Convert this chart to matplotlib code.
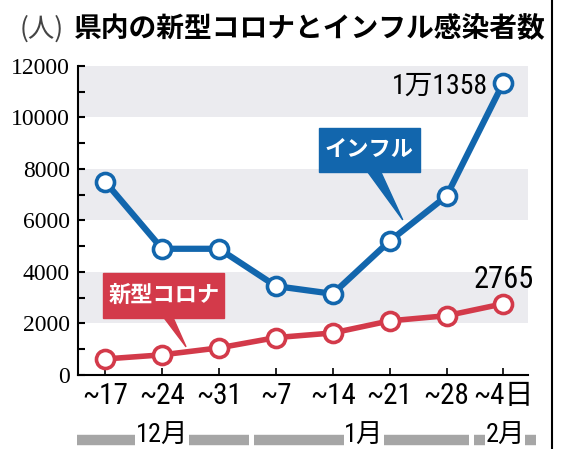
import matplotlib.pyplot as plt
from matplotlib.lines import Line2D
from matplotlib.patches import Rectangle, Polygon

plt.rcParams['font.family'] = ['Noto Sans CJK JP', 'DejaVu Sans']

weeks = ["~17", "~24", "~31", "~7", "~14", "~21", "~28", "~4日"]
flu = [7500, 4900, 4900, 3450, 3150, 5200, 6950, 11358]
covid = [620, 780, 1050, 1450, 1630, 2100, 2300, 2765]
months = ["12月", "1月", "2月"]
month_pos = [1.0, 4.55, 7.03]
month_spans = [(-0.5, 2.53), (2.62, 6.40), (6.49, 7.57)]

BLUE = "#1266ad"
RED = "#d33a4a"
NARROW = ['Roboto Condensed', 'Noto Sans CJK JP']
SERIF = 'Liberation Serif'

fig = plt.figure(figsize=(5.61, 4.49), dpi=100)
ax = fig.add_axes([0.139, 0.165, 0.802, 0.688])

for lo, hi in [(2000, 4000), (6000, 8000), (10000, 12000)]:
    ax.axhspan(lo, hi, color="#ebebef", zorder=0, lw=0)

x = list(range(len(weeks)))
ax.plot(x, flu, color=BLUE, lw=4.5, marker="o", ms=13, mfc="white",
        mec=BLUE, mew=2.6, zorder=4)
ax.plot(x, covid, color=RED, lw=4, marker="o", ms=13, mfc="white",
        mec=RED, mew=2.6, zorder=3)

ax.set_xlim(-0.48, 7.43)
ax.set_ylim(0, 12000)
ax.set_yticks(range(0, 12001, 2000))
ax.set_yticks(range(0, 12001, 1000), minor=True)
ax.tick_params(axis="y", which="both", direction="in", length=5, width=1.5, pad=6)
ax.tick_params(axis="x", direction="in", length=5, width=1.2, pad=5)
ax.set_yticklabels([str(v) for v in range(0, 12001, 2000)],
                   fontfamily=SERIF, fontsize=17)
ax.set_xticks(x)
ax.set_xticklabels(weeks, fontfamily=NARROW, fontsize=21)
for s in ["top", "right"]:
    ax.spines[s].set_visible(False)
for s in ["left", "bottom"]:
    ax.spines[s].set_linewidth(1.5)

# end labels
ax.text(6.72, flu[-1] - 150, "1万1358", family=NARROW, fontsize=20,
        ha="right", va="center")
ax.text(7.0, covid[-1] + 950, "2765", family=NARROW, fontsize=22,
        ha="center", va="center")

# callout boxes
ax.add_patch(Rectangle((3.76, 7883), 1.77, 1709, color=BLUE, zorder=5))
ax.add_patch(Polygon([(4.61, 7900), (4.84, 7900), (5.23, 6020)], color=BLUE, zorder=5))
ax.text(4.645, 8740, "インフル", color="white", fontsize=16, weight="bold",
        ha="center", va="center", zorder=6)

ax.add_patch(Rectangle((-0.035, 2214), 2.125, 1747, color=RED, zorder=5))
ax.add_patch(Polygon([(1.03, 2230), (1.19, 2230), (1.42, 1090)], color=RED, zorder=5))
ax.text(1.03, 3090, "新型コロナ", color="white", fontsize=16, weight="bold",
        ha="center", va="center", zorder=6)

# month bars below the axis
tr = ax.get_xaxis_transform()
for lo, hi in month_spans:
    ax.plot([lo, hi], [-0.21, -0.21], transform=tr, color="#a6a6a6",
            lw=7.5, clip_on=False, solid_capstyle="butt")
for m, p in zip(months, month_pos):
    ax.text(p, -0.197, m, transform=tr, family=NARROW, fontsize=19,
            ha="center", va="center",
            bbox=dict(facecolor="white", edgecolor="none", pad=0.3))

# title
fig.text(0.035, 0.935, "(人)", fontsize=19, color="#444444", va="center")
fig.text(0.132, 0.935, "県内の新型コロナとインフル感染者数", fontsize=20,
         weight="bold", va="center")

fig.add_artist(Line2D([552 / 561] * 2, [0, 1], transform=fig.transFigure,
                      color="black", lw=1.5))

fig.savefig("out.png", dpi=100)
